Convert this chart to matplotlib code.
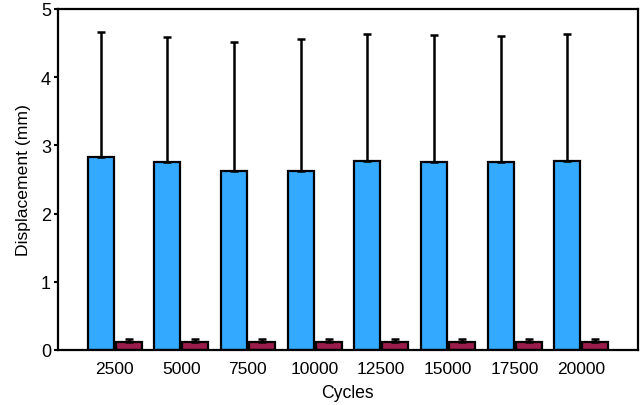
import numpy as np
import matplotlib.pyplot as plt

plt.rcParams['font.family'] = ['Liberation Sans', 'DejaVu Sans']

cycles = ['2500', '5000', '7500', '10000', '12500', '15000', '17500', '20000']
blue_mean = [2.83, 2.75, 2.63, 2.63, 2.77, 2.75, 2.75, 2.77]
blue_err = [1.83, 1.84, 1.89, 1.93, 1.87, 1.87, 1.86, 1.86]
red_mean = [0.11, 0.11, 0.11, 0.11, 0.11, 0.11, 0.11, 0.11]
red_err = [0.05, 0.05, 0.05, 0.05, 0.05, 0.05, 0.05, 0.05]

x = np.arange(len(cycles))
w = 0.39

fig = plt.figure(figsize=(6.4, 4.06), dpi=100)
ax = fig.add_axes([0.0906, 0.1355, 0.906, 0.84])

ax.bar(x - 0.21, blue_mean, w, color='#33aaff', edgecolor='black', linewidth=1.6,
       yerr=[np.zeros(len(x)), blue_err], capsize=3,
       error_kw=dict(elinewidth=1.8, capthick=1.8, ecolor='black'), zorder=2)
ax.bar(x + 0.21, red_mean, w, color='#9b1d4c', edgecolor='black', linewidth=1.6,
       yerr=[np.zeros(len(x)), red_err], capsize=3,
       error_kw=dict(elinewidth=1.8, capthick=1.8, ecolor='black'), zorder=2)

ax.set_xlim(-0.85, 7.85)
ax.set_ylim(0, 5)
ax.set_xticks(x)
ax.set_xticklabels(cycles)
ax.set_yticks([0, 1, 2, 3, 4, 5])
ax.tick_params(axis='x', length=0, labelsize=12.5, pad=8)
ax.tick_params(axis='y', length=3, width=1.5, labelsize=13, pad=2)
for s in ax.spines.values():
    s.set_linewidth(1.6)

ax.set_xlabel('Cycles', fontsize=12.7, labelpad=6)
ax.set_ylabel('Displacement (mm)', fontsize=12.6, labelpad=7)

fig.savefig('out.png', dpi=100)
